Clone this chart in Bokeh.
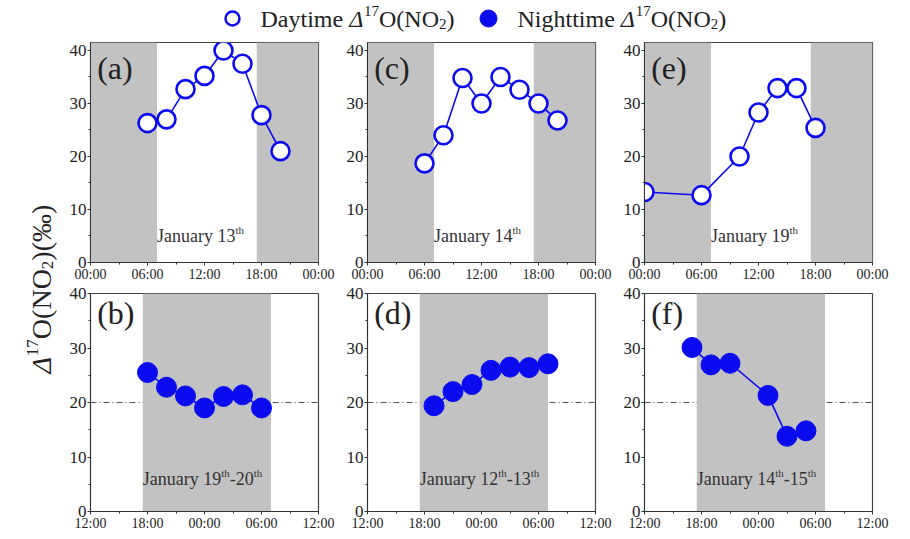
import math
from bokeh.plotting import figure
from bokeh.layouts import row, column
from bokeh.models import FixedTicker, Span, Label, Range1d
from bokeh.core.properties import value
from bokeh.embed import file_html
from bokeh.resources import INLINE

# ---------------- data ----------------
day_a_hours = [6, 8, 10, 12, 14, 16, 18, 20]
day_a_vals = [26.3, 27.0, 32.7, 35.2, 40.0, 37.5, 27.8, 21.0]
day_c_hours = [6, 8, 10, 12, 14, 16, 18, 20]
day_c_vals = [18.7, 24.0, 34.8, 30.0, 35.0, 32.6, 30.0, 26.8]
day_e_hours = [0, 6, 10, 12, 14, 16, 18]
day_e_vals = [13.3, 12.7, 20.0, 28.3, 32.9, 32.9, 25.4]

night_b_hours = [18, 20, 22, 24, 26, 28, 30]
night_b_vals = [25.5, 22.8, 21.2, 19.0, 21.1, 21.4, 19.0]
night_d_hours = [19, 21, 23, 25, 27, 29, 31]
night_d_vals = [19.4, 22.0, 23.3, 25.9, 26.5, 26.4, 27.1]
night_f_hours = [17, 19, 21, 25, 27, 29]
night_f_vals = [30.1, 26.9, 27.2, 21.3, 13.8, 14.8]

# night shading (hours)
day_night_left = [0, 17.5]
day_night_right = [7.0, 24]
night_night_left = [17.5]
night_night_right = [31.0]

day_ticks = [0, 6, 12, 18, 24]
day_tick_labels = ["00:00", "06:00", "12:00", "18:00", "00:00"]
night_ticks = [12, 18, 24, 30, 36]
night_tick_labels = ["12:00", "18:00", "00:00", "06:00", "12:00"]
y_ticks = [0, 10, 20, 30, 40]
ref_level = 20

panel_letters_top = ["(a)", "(c)", "(e)"]
panel_letters_bot = ["(b)", "(d)", "(f)"]
dates_top = [["January 13", "th"], ["January 14", "th"], ["January 19", "th"]]
dates_bot = [["January 19", "th", "-20", "th"], ["January 12", "th", "-13", "th"],
             ["January 14", "th", "-15", "th"]]
legend_day = ["Daytime ", "Δ", "17", "O(NO", "2", ")"]
legend_night = ["Nighttime ", "Δ", "17", "O(NO", "2", ")"]
ylabel_parts = ["Δ", "17", "O(NO", "2", ")(‰)"]

# ---------------- style ----------------
FONT = "Liberation Serif"
BLUE = "#0b0bf0"
GRAY = "#c2c2c2"
AXC = "#333333"
TXT = "#222222"

# approximate Times/Liberation Serif advance widths (em)
W = {' ': 0.25, 'J': 0.389, 'a': 0.444, 'n': 0.5, 'u': 0.5, 'r': 0.333, 'y': 0.5,
     '-': 0.333, 't': 0.278, 'h': 0.5, 'D': 0.722, 'i': 0.278, 'm': 0.778, 'e': 0.444,
     'N': 0.722, 'O': 0.722, '(': 0.333, ')': 0.333, 'g': 0.5, 'Δ': 0.62, '‰': 1.0}


def tw(s, size):
    return sum(W.get(c, 0.5) for c in s) * size


def seg_styles(parts, base, small, up, down):
    kinds = ["n", "i", "sup", "n", "sub", "n"]
    if len(parts) == 5:
        kinds = kinds[1:]
    out = []
    for t, k in zip(parts, kinds):
        if k == "sup":
            out.append((t, small, up, "normal"))
        elif k == "sub":
            out.append((t, small, -down, "normal"))
        elif k == "i":
            out.append((t, base, 0, "italic"))
        else:
            out.append((t, base, 0, "normal"))
    return out


def make_panel(top_row, hours, vals, letter, date_parts, shade_l, shade_r):
    if top_row:
        xr, yr = Range1d(0, 24), Range1d(0, 41.5)
        ticks, labels = day_ticks, day_tick_labels
        minor = [3, 9, 15, 21]
        bt, bb = 10, 22
    else:
        xr, yr = Range1d(12, 36), Range1d(0, 40)
        ticks, labels = night_ticks, night_tick_labels
        minor = [15, 21, 27, 33]
        bt, bb = 9, 20
    p = figure(width=31 + 228 + 18, height=bt + 220 + bb, x_range=xr, y_range=yr,
               output_backend="svg", toolbar_location=None,
               min_border_left=31, min_border_right=18,
               min_border_top=bt, min_border_bottom=bb)
    p.xgrid.visible = False
    p.ygrid.visible = False
    p.outline_line_color = "#444444"
    p.outline_line_width = 1.2
    p.background_fill_color = "white"
    p.border_fill_color = "white"

    if not top_row:
        p.add_layout(Span(location=ref_level, dimension="width", line_color="#555555",
                          line_width=1, line_dash="6 3 1 3", level="underlay"))

    p.quad(left=shade_l, right=shade_r, bottom=0, top=yr.end,
           fill_color=GRAY, line_color=None)

    p.line(hours, vals, line_color=BLUE, line_width=1.6)
    if top_row:
        p.scatter(hours, vals, size=18, fill_color="white", line_color=BLUE, line_width=2.6)
    else:
        p.scatter(hours, vals, size=20, fill_color=BLUE, line_color=BLUE, line_width=1)

    x0 = xr.start
    p.add_layout(Label(x=x0 + 0.7, y=(36.6 if top_row else 36.5), text=letter,
                       text_font=FONT, text_font_size="32px", text_color=TXT,
                       text_baseline="middle", text_align="left"))
    dx = 0.0
    lx = shade_r[0] if top_row else shade_l[0]
    ly = 5.0 if top_row else 6.0
    for i, t in enumerate(date_parts):
        sup = (i % 2 == 1)
        size = 11 if sup else 18
        p.add_layout(Label(x=lx, y=ly, x_offset=dx, y_offset=(6 if sup else 0), text=t,
                           text_font=FONT, text_font_size=f"{size}px",
                           text_color="#333333", text_baseline="middle", text_align="left"))
        dx += tw(t, size)

    p.xaxis.ticker = FixedTicker(ticks=ticks, minor_ticks=minor)
    p.xaxis.major_label_overrides = {t: l for t, l in zip(ticks, labels)}
    p.yaxis.ticker = FixedTicker(ticks=y_ticks, minor_ticks=[5, 15, 25, 35])
    for ax in (p.xaxis[0], p.yaxis[0]):
        ax.axis_line_color = AXC
        ax.major_tick_line_color = AXC
        ax.minor_tick_line_color = AXC
        ax.major_tick_out = 3
        ax.major_tick_in = 0
        ax.minor_tick_out = 2
        ax.minor_tick_in = 0
        ax.major_label_text_font = FONT
        ax.major_label_text_color = TXT
        ax.major_label_standoff = 1
    p.xaxis.major_label_text_font_size = "14px"
    p.yaxis.major_label_text_font_size = "17px"
    return p


pa = make_panel(True, day_a_hours, day_a_vals, panel_letters_top[0], dates_top[0], day_night_left, day_night_right)
pc = make_panel(True, day_c_hours, day_c_vals, panel_letters_top[1], dates_top[1], day_night_left, day_night_right)
pe = make_panel(True, day_e_hours, day_e_vals, panel_letters_top[2], dates_top[2], day_night_left, day_night_right)
pb = make_panel(False, night_b_hours, night_b_vals, panel_letters_bot[0], dates_bot[0], night_night_left, night_night_right)
pd = make_panel(False, night_d_hours, night_d_vals, panel_letters_bot[1], dates_bot[1], night_night_left, night_night_right)
pf = make_panel(False, night_f_hours, night_f_vals, panel_letters_bot[2], dates_bot[2], night_night_left, night_night_right)

H_PANELS = (10 + 220 + 22) + (9 + 220 + 20)

# y label figure (pixel coordinates)
yl = figure(width=59, height=H_PANELS, x_range=Range1d(0, 59), y_range=Range1d(0, H_PANELS),
            output_backend="svg", toolbar_location=None, min_border=0)
yl.axis.visible = False
yl.grid.visible = False
yl.outline_line_color = None
ypos = 160.0
mid_x = 41.0
for t, size, shift, style in seg_styles(ylabel_parts, 28, 17, 9, 6):
    yl.text(x=[mid_x - shift], y=[ypos], text=[t], angle=math.pi / 2,
            text_font_size=value(f"{size}px"), text_color=TXT, text_align="left",
            text_baseline="middle", text_font=value(FONT), text_font_style=value(style))
    ypos += tw(t, size)

# legend figure (pixel coordinates)
lg = figure(width=890, height=32, x_range=Range1d(0, 890), y_range=Range1d(0, 32),
            output_backend="svg", toolbar_location=None, min_border=0)
lg.axis.visible = False
lg.grid.visible = False
lg.outline_line_color = None
lg.scatter([232], [14], size=14, fill_color="white", line_color=BLUE, line_width=2.5)
lg.scatter([488], [14], size=17, fill_color=BLUE, line_color=BLUE)
for start, parts in ((260.0, legend_day), (517.0, legend_night)):
    xpos = start
    for t, size, shift, style in seg_styles(parts, 24, 15, 8, 5):
        lg.text(x=[xpos], y=[14 + shift], text=[t], text_font_size=value(f"{size}px"),
                text_color=TXT, text_align="left", text_baseline="middle",
                text_font=value(FONT), text_font_style=value(style))
        xpos += tw(t, size)

layout = column(lg, row(yl, column(pa, pb), column(pc, pd), column(pe, pf)))

open("out.html", "w").write(file_html(layout, INLINE))
